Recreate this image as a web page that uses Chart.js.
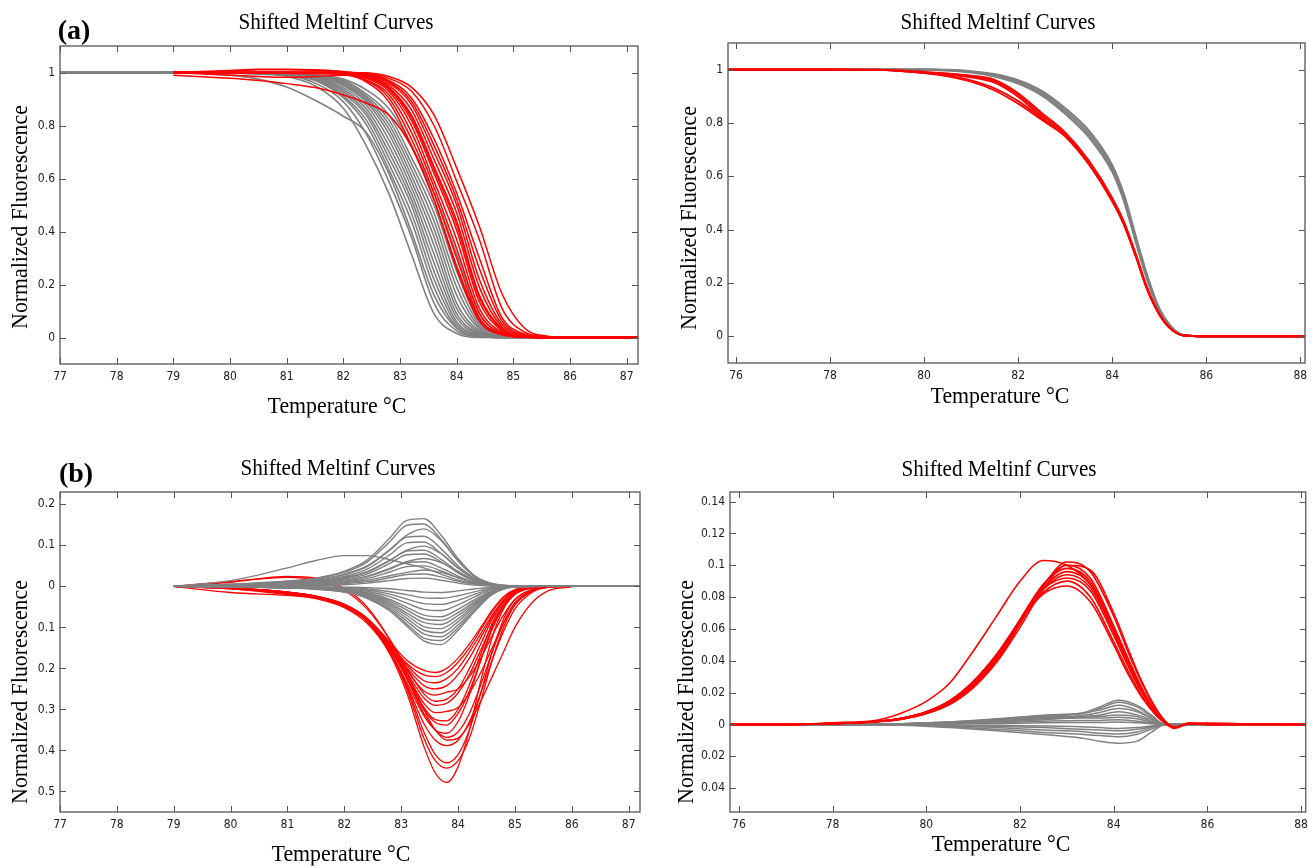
<!DOCTYPE html>
<html>
<head>
<meta charset="utf-8">
<script src="https://cdn.jsdelivr.net/npm/chart.js@4.4.1/dist/chart.umd.min.js"></script>
<style>
  html, body { margin: 0; padding: 0; background: #fff; }
  body { width: 1314px; height: 868px; position: relative; overflow: hidden; font-family: 'Liberation Serif', 'Times New Roman', serif; }
  .panel { position: absolute; }
  .lbl { position: absolute; white-space: nowrap; color: #000; line-height: 1; }
  .title { font-size: 23px; transform: translate(-50%, -50%) scaleX(0.92); }
  .xlab { font-size: 23px; transform: translate(-50%, -50%) scaleX(0.95); }
  .ylab { font-size: 24px; transform: translate(-50%, -50%) rotate(-90deg) scaleX(0.91); }
  .tag { font-size: 28px; font-weight: bold; transform: translate(-50%, -50%); }
</style>
</head>
<body>

<div class="panel" style="left:0;top:0;width:657px;height:434px"><canvas id="chartA1"></canvas></div>
<div class="panel" style="left:668px;top:0;width:646px;height:434px"><canvas id="chartA2"></canvas></div>
<div class="panel" style="left:0;top:440px;width:657px;height:428px"><canvas id="chartB1"></canvas></div>
<div class="panel" style="left:668px;top:440px;width:646px;height:428px"><canvas id="chartB2"></canvas></div>

<div class="lbl tag" style="left:74px;top:30px">(a)</div>
<div class="lbl tag" style="left:76px;top:473px">(b)</div>

<div class="lbl title" style="left:336px;top:21px">Shifted Meltinf Curves</div>
<div class="lbl title" style="left:998px;top:21px">Shifted Meltinf Curves</div>
<div class="lbl title" style="left:338px;top:467px">Shifted Meltinf Curves</div>
<div class="lbl title" style="left:999px;top:468px">Shifted Meltinf Curves</div>

<div class="lbl xlab" style="left:337px;top:405px">Temperature °C</div>
<div class="lbl xlab" style="left:1000px;top:395px">Temperature °C</div>
<div class="lbl xlab" style="left:341px;top:853px">Temperature °C</div>
<div class="lbl xlab" style="left:1001px;top:843px">Temperature °C</div>

<div class="lbl ylab" style="left:19px;top:217px">Normalized Fluorescence</div>
<div class="lbl ylab" style="left:688px;top:218px">Normalized Fluorescence</div>
<div class="lbl ylab" style="left:19px;top:692px">Normalized Fluorescence</div>
<div class="lbl ylab" style="left:685px;top:692px">Normalized Fluorescence</div>

<script>
// ---- tick values / labels ----
const ticksTempA = [77, 78, 79, 80, 81, 82, 83, 84, 85, 86, 87];
const ticksTempB = [76, 78, 80, 82, 84, 86, 88];
const ticksFluor = [0, 0.2, 0.4, 0.6, 0.8, 1];
const labelsFluor = ['0', '0.2', '0.4', '0.6', '0.8', '1'];
const ticksDiffA = [0.2, 0.1, 0, -0.1, -0.2, -0.3, -0.4, -0.5];
const labelsDiffA = ['0.2', '0.1', '0', '0.1', '0.2', '0.3', '0.4', '0.5'];
const ticksDiffB = [0.14, 0.12, 0.1, 0.08, 0.06, 0.04, 0.02, 0, -0.02, -0.04];
const labelsDiffB = ['0.14', '0.12', '0.1', '0.08', '0.06', '0.04', '0.02', '0', '0.02', '0.04'];

// ---- panel (a) left: melting curves ----
const tempGreyA1 = [77, 79, 80, 80.5, 81, 81.5, 82, 82.4, 82.8, 83.2, 83.6, 84, 84.4, 84.8, 85.2, 85.6, 86, 87.2];
const greyA1 = [
  [1, 1, 0.998, 0.994, 0.985, 0.95, 0.865, 0.725, 0.545, 0.315, 0.09, 0.015, 0, 0, 0, 0, 0, 0],
  [1, 1, 0.998, 0.995, 0.99, 0.96, 0.89, 0.77, 0.59, 0.38, 0.13, 0.025, 0.003, 0, 0, 0, 0, 0],
  [1, 1, 0.999, 0.996, 0.99, 0.97, 0.905, 0.805, 0.635, 0.44, 0.19, 0.04, 0.005, 0, 0, 0, 0, 0],
  [1, 1, 1, 0.997, 0.991, 0.972, 0.912, 0.822, 0.657, 0.47, 0.22, 0.05, 0.008, 0, 0, 0, 0, 0],
  [1, 1, 1, 0.997, 0.992, 0.975, 0.92, 0.84, 0.68, 0.5, 0.25, 0.06, 0.01, 0, 0, 0, 0, 0],
  [1, 1, 1, 0.998, 0.993, 0.978, 0.928, 0.852, 0.702, 0.522, 0.282, 0.075, 0.012, 0, 0, 0, 0, 0],
  [1, 1, 1, 0.998, 0.993, 0.98, 0.935, 0.865, 0.725, 0.545, 0.315, 0.09, 0.015, 0, 0, 0, 0, 0],
  [1, 1, 1, 0.998, 0.994, 0.982, 0.942, 0.878, 0.748, 0.568, 0.348, 0.11, 0.02, 0.002, 0, 0, 0, 0],
  [1, 1, 1, 0.998, 0.994, 0.985, 0.95, 0.89, 0.77, 0.59, 0.38, 0.13, 0.025, 0.003, 0, 0, 0, 0],
  [1, 1, 1, 0.998, 0.995, 0.988, 0.955, 0.898, 0.788, 0.612, 0.41, 0.16, 0.032, 0.004, 0, 0, 0, 0],
  [1, 1, 1, 0.998, 0.995, 0.99, 0.96, 0.905, 0.805, 0.635, 0.44, 0.19, 0.04, 0.005, 0, 0, 0, 0],
  [1, 1, 1, 0.998, 0.995, 0.99, 0.965, 0.912, 0.822, 0.657, 0.47, 0.22, 0.05, 0.008, 0, 0, 0, 0],
  [1, 1, 1, 0.999, 0.996, 0.99, 0.97, 0.92, 0.84, 0.68, 0.5, 0.25, 0.06, 0.01, 0, 0, 0, 0],
  [1, 1, 1, 1, 0.997, 0.992, 0.975, 0.935, 0.865, 0.725, 0.545, 0.315, 0.09, 0.015, 0, 0, 0, 0],
  [1, 1, 0.99, 0.975, 0.945, 0.895, 0.835, 0.775, 0.62, 0.4, 0.16, 0.035, 0.005, 0, 0, 0, 0, 0]
];
const tempRedA1 = [79, 80, 80.5, 81, 81.5, 82, 82.4, 82.8, 83.2, 83.6, 84, 84.4, 84.8, 85.2, 85.6, 86, 87.2];
const redA1 = [
  [0.99, 0.978, 0.97, 0.958, 0.943, 0.915, 0.885, 0.84, 0.72, 0.52, 0.27, 0.07, 0.012, 0.002, 0, 0, 0],
  [1, 1, 1, 1, 0.998, 0.993, 0.965, 0.89, 0.725, 0.52, 0.26, 0.062, 0.01, 0.001, 0, 0, 0],
  [1, 1, 1, 1, 1, 0.995, 0.97, 0.905, 0.75, 0.545, 0.3, 0.075, 0.013, 0.001, 0, 0, 0],
  [1, 1, 0.998, 0.996, 0.995, 0.993, 0.972, 0.918, 0.775, 0.568, 0.335, 0.092, 0.016, 0.002, 0, 0, 0],
  [1, 1, 1, 1, 1, 0.997, 0.978, 0.93, 0.8, 0.59, 0.37, 0.11, 0.02, 0.003, 0, 0, 0],
  [1, 1.005, 1.01, 1.01, 1.008, 1.0, 0.982, 0.938, 0.82, 0.62, 0.405, 0.135, 0.026, 0.004, 0, 0, 0],
  [1, 1, 1, 1, 1, 0.999, 0.985, 0.945, 0.84, 0.645, 0.44, 0.16, 0.033, 0.005, 0, 0, 0],
  [1, 1, 1, 1, 1, 1, 0.988, 0.952, 0.86, 0.672, 0.47, 0.19, 0.04, 0.006, 0, 0, 0],
  [1, 1.008, 1.012, 1.012, 1.01, 1.004, 0.99, 0.96, 0.88, 0.7, 0.5, 0.22, 0.05, 0.008, 0, 0, 0],
  [1, 1, 1, 1, 1, 1, 0.993, 0.965, 0.892, 0.725, 0.522, 0.26, 0.062, 0.01, 0.001, 0, 0],
  [1, 1, 1, 1, 1, 1, 0.995, 0.97, 0.905, 0.75, 0.545, 0.3, 0.075, 0.013, 0.001, 0, 0],
  [1, 1, 1, 1, 1, 1, 0.997, 0.978, 0.93, 0.8, 0.59, 0.37, 0.11, 0.02, 0.003, 0, 0],
  [1, 1, 1, 1, 1, 1, 0.999, 0.985, 0.945, 0.84, 0.64, 0.42, 0.165, 0.035, 0.005, 0, 0],
  [1, 0.99, 0.985, 0.982, 0.985, 0.99, 0.984, 0.942, 0.832, 0.635, 0.425, 0.15, 0.03, 0.005, 0, 0, 0]
];

// ---- panel (a) right ----
const tempA2 = [75.8, 78, 79, 80, 80.5, 81, 81.5, 82, 82.5, 83, 83.5, 84, 84.25, 84.5, 84.75, 85, 85.25, 85.5, 86, 88.2];
const greyA2 = [
  [1, 1, 1, 1, 0.999, 0.994, 0.983, 0.96, 0.92, 0.855, 0.772, 0.642, 0.532, 0.375, 0.225, 0.105, 0.037, 0.006, 0, 0],
  [1, 1, 1, 1, 0.998, 0.992, 0.979, 0.954, 0.912, 0.845, 0.76, 0.63, 0.52, 0.365, 0.218, 0.1, 0.035, 0.005, 0, 0],
  [1, 1, 1, 1, 0.997, 0.99, 0.975, 0.948, 0.904, 0.835, 0.748, 0.618, 0.508, 0.355, 0.21, 0.096, 0.033, 0.005, 0, 0]
];
const redA2 = [
  [1, 1, 1, 0.992, 0.986, 0.978, 0.962, 0.912, 0.838, 0.765, 0.66, 0.52, 0.43, 0.31, 0.18, 0.086, 0.029, 0.004, 0, 0],
  [1, 1, 1, 0.99, 0.984, 0.975, 0.957, 0.905, 0.83, 0.758, 0.652, 0.512, 0.424, 0.305, 0.176, 0.084, 0.028, 0.004, 0, 0],
  [1, 1, 0.999, 0.988, 0.981, 0.971, 0.951, 0.898, 0.822, 0.75, 0.645, 0.505, 0.418, 0.3, 0.172, 0.082, 0.027, 0.004, 0, 0],
  [1, 1, 0.999, 0.988, 0.978, 0.96, 0.93, 0.882, 0.818, 0.752, 0.65, 0.51, 0.42, 0.302, 0.174, 0.083, 0.027, 0.004, 0, 0],
  [1, 1, 0.999, 0.987, 0.975, 0.955, 0.922, 0.872, 0.812, 0.75, 0.648, 0.51, 0.42, 0.302, 0.174, 0.083, 0.027, 0.004, 0, 0]
];

// ---- panel (b) left: difference curves ----
const tempGreyB1 = [79, 80, 81, 81.5, 82, 82.4, 82.8, 83.1, 83.4, 83.7, 84, 84.3, 84.6, 85, 85.5, 87.2];
const greyB1 = [
  [0, 0.005, 0.013, 0.02, 0.037, 0.064, 0.118, 0.161, 0.165, 0.125, 0.068, 0.025, 0.007, 0.001, 0, 0],
  [0, 0.005, 0.012, 0.019, 0.034, 0.059, 0.109, 0.149, 0.152, 0.115, 0.063, 0.023, 0.006, 0.001, 0, 0],
  [0, 0.004, 0.011, 0.017, 0.03, 0.05, 0.09, 0.125, 0.14, 0.112, 0.062, 0.024, 0.006, 0.001, 0, 0],
  [0, 0.004, 0.01, 0.015, 0.028, 0.048, 0.088, 0.12, 0.122, 0.092, 0.05, 0.019, 0.005, 0.001, 0, 0],
  [0, 0.003, 0.009, 0.013, 0.024, 0.042, 0.077, 0.106, 0.108, 0.08, 0.044, 0.017, 0.004, 0, 0, 0],
  [0, 0.003, 0.008, 0.012, 0.022, 0.036, 0.064, 0.088, 0.098, 0.08, 0.046, 0.018, 0.004, 0, 0, 0],
  [0, 0.003, 0.007, 0.011, 0.02, 0.034, 0.063, 0.086, 0.088, 0.066, 0.036, 0.014, 0.004, 0, 0, 0],
  [0, 0.002, 0.006, 0.01, 0.018, 0.03, 0.056, 0.077, 0.079, 0.06, 0.033, 0.012, 0.003, 0, 0, 0],
  [0, 0.002, 0.006, 0.008, 0.015, 0.025, 0.044, 0.06, 0.068, 0.058, 0.036, 0.015, 0.004, 0, 0, 0],
  [0, 0.002, 0.005, 0.007, 0.013, 0.023, 0.042, 0.058, 0.06, 0.045, 0.025, 0.009, 0.002, 0, 0, 0],
  [0, 0.002, 0.004, 0.006, 0.011, 0.019, 0.035, 0.048, 0.05, 0.038, 0.021, 0.008, 0.002, 0, 0, 0],
  [0, 0.001, 0.003, 0.005, 0.009, 0.015, 0.026, 0.034, 0.04, 0.034, 0.021, 0.009, 0.003, 0, 0, 0],
  [0, 0.001, 0.002, 0.004, 0.007, 0.011, 0.021, 0.029, 0.03, 0.023, 0.012, 0.005, 0.001, 0, 0, 0],
  [0, 0.001, 0.002, 0.002, 0.004, 0.008, 0.014, 0.019, 0.02, 0.015, 0.008, 0.003, 0.001, 0, 0, 0],
  [0, 0.014, 0.045, 0.063, 0.075, 0.075, 0.065, 0.055, 0.045, 0.03, 0.015, 0.006, 0.002, 0, 0, 0],
  [0, -0.001, -0.004, -0.007, -0.014, -0.029, -0.06, -0.097, -0.133, -0.142, -0.107, -0.06, -0.02, -0.001, 0, 0],
  [0, -0.001, -0.004, -0.007, -0.014, -0.027, -0.057, -0.092, -0.126, -0.132, -0.101, -0.057, -0.019, -0.001, 0, 0],
  [0, -0.001, -0.004, -0.006, -0.013, -0.025, -0.053, -0.085, -0.116, -0.123, -0.094, -0.053, -0.018, -0.001, 0, 0],
  [0, -0.001, -0.003, -0.006, -0.012, -0.023, -0.048, -0.078, -0.107, -0.113, -0.086, -0.048, -0.016, -0.001, 0, 0],
  [0, -0.001, -0.003, -0.005, -0.011, -0.021, -0.044, -0.071, -0.098, -0.103, -0.079, -0.044, -0.015, -0.001, 0, 0],
  [0, -0.001, -0.003, -0.005, -0.01, -0.019, -0.04, -0.065, -0.088, -0.093, -0.071, -0.04, -0.013, -0.001, 0, 0],
  [0, -0.001, -0.003, -0.004, -0.009, -0.017, -0.036, -0.058, -0.079, -0.083, -0.064, -0.036, -0.012, -0.001, 0, 0],
  [0, -0.001, -0.002, -0.004, -0.008, -0.015, -0.032, -0.051, -0.07, -0.074, -0.056, -0.032, -0.011, -0.001, 0, 0],
  [0, -0.001, -0.002, -0.003, -0.006, -0.012, -0.025, -0.041, -0.056, -0.059, -0.045, -0.025, -0.008, 0, 0, 0],
  [0, 0, -0.001, -0.002, -0.005, -0.009, -0.019, -0.031, -0.042, -0.044, -0.034, -0.019, -0.006, 0, 0, 0],
  [0, 0, -0.001, -0.002, -0.003, -0.006, -0.013, -0.02, -0.028, -0.029, -0.023, -0.013, -0.004, 0, 0, 0],
  [0, 0, 0, -0.001, -0.002, -0.003, -0.006, -0.01, -0.014, -0.015, -0.011, -0.006, -0.002, 0, 0, 0]
];
const tempRedB1 = [79, 80, 81, 81.5, 82, 82.4, 82.8, 83.1, 83.4, 83.6, 83.8, 84, 84.2, 84.4, 84.6, 84.8, 85, 85.3, 85.6, 86];
const redB1 = [
  [0, -0.005, -0.015, -0.025, -0.045, -0.085, -0.165, -0.26, -0.39, -0.455, -0.478, -0.44, -0.35, -0.23, -0.125, -0.055, -0.02, -0.004, 0, 0],
  [0, -0.004, -0.014, -0.024, -0.045, -0.082, -0.16, -0.25, -0.37, -0.425, -0.443, -0.425, -0.37, -0.28, -0.18, -0.1, -0.045, -0.012, -0.002, 0],
  [0, -0.006, -0.018, -0.028, -0.05, -0.085, -0.16, -0.245, -0.355, -0.41, -0.43, -0.41, -0.35, -0.26, -0.16, -0.08, -0.032, -0.008, -0.001, 0],
  [0, -0.005, -0.016, -0.026, -0.046, -0.082, -0.155, -0.24, -0.335, -0.375, -0.388, -0.375, -0.33, -0.26, -0.18, -0.11, -0.055, -0.015, -0.002, 0],
  [0, 0.01, 0.024, 0.02, -0.005, -0.05, -0.13, -0.21, -0.3, -0.35, -0.375, -0.37, -0.335, -0.28, -0.22, -0.16, -0.1, -0.04, -0.01, -0.001],
  [0, -0.006, -0.02, -0.03, -0.052, -0.09, -0.16, -0.235, -0.315, -0.35, -0.358, -0.33, -0.265, -0.18, -0.1, -0.045, -0.015, -0.003, 0, 0],
  [0, -0.005, -0.015, -0.025, -0.045, -0.08, -0.15, -0.225, -0.3, -0.332, -0.338, -0.31, -0.255, -0.18, -0.105, -0.05, -0.018, -0.003, 0, 0],
  [0, -0.015, -0.022, -0.028, -0.045, -0.08, -0.145, -0.22, -0.295, -0.325, -0.328, -0.3, -0.24, -0.165, -0.09, -0.04, -0.013, -0.002, 0, 0],
  [0, -0.004, -0.014, -0.024, -0.044, -0.078, -0.145, -0.215, -0.285, -0.308, -0.305, -0.295, -0.26, -0.21, -0.15, -0.09, -0.045, -0.012, -0.002, 0],
  [0, -0.005, -0.015, -0.026, -0.046, -0.08, -0.145, -0.21, -0.272, -0.29, -0.285, -0.26, -0.215, -0.155, -0.095, -0.048, -0.018, -0.004, 0, 0],
  [0, 0.012, 0.022, 0.015, -0.01, -0.055, -0.13, -0.2, -0.262, -0.28, -0.275, -0.25, -0.2, -0.14, -0.08, -0.035, -0.012, -0.002, 0, 0],
  [0, -0.005, -0.016, -0.027, -0.048, -0.082, -0.145, -0.205, -0.255, -0.265, -0.258, -0.25, -0.22, -0.175, -0.12, -0.07, -0.032, -0.008, 0, 0],
  [0, -0.004, -0.014, -0.024, -0.044, -0.078, -0.14, -0.198, -0.242, -0.25, -0.242, -0.215, -0.175, -0.125, -0.075, -0.035, -0.012, -0.002, 0, 0],
  [0, -0.005, -0.015, -0.025, -0.045, -0.08, -0.14, -0.192, -0.23, -0.235, -0.225, -0.2, -0.16, -0.115, -0.07, -0.033, -0.011, -0.002, 0, 0],
  [0, -0.005, -0.015, -0.026, -0.047, -0.082, -0.14, -0.188, -0.216, -0.22, -0.21, -0.185, -0.15, -0.105, -0.062, -0.028, -0.009, -0.001, 0, 0],
  [0, -0.004, -0.014, -0.024, -0.044, -0.078, -0.135, -0.18, -0.205, -0.21, -0.2, -0.175, -0.14, -0.1, -0.058, -0.025, -0.008, -0.001, 0, 0],
  [0, -0.005, -0.016, -0.026, -0.046, -0.082, -0.15, -0.225, -0.31, -0.35, -0.368, -0.355, -0.31, -0.24, -0.16, -0.09, -0.04, -0.01, -0.001, 0]
];

// ---- panel (b) right ----
const tempGreyB2 = [75.8, 78.5, 79.5, 80.5, 81.5, 82.5, 83.3, 83.7, 84.1, 84.5, 84.8, 85.1, 85.4, 86, 88.2];
const greyB2 = [
  [0, 0, 0.0005, 0.0015, 0.003, 0.005, 0.007, 0.011, 0.0152, 0.012, 0.006, 0, 0, 0, 0],
  [0, 0, 0.0005, 0.0015, 0.003, 0.0055, 0.0065, 0.01, 0.014, 0.011, 0.005, 0, -0.0005, 0, 0],
  [0, 0, 0.0005, 0.0015, 0.0035, 0.0058, 0.007, 0.009, 0.012, 0.009, 0.004, 0, 0, 0, 0],
  [0, 0, 0.0005, 0.001, 0.0025, 0.0045, 0.0055, 0.0075, 0.01, 0.008, 0.004, 0, -0.0008, 0, 0],
  [0, 0, 0.0004, 0.001, 0.002, 0.004, 0.005, 0.006, 0.008, 0.006, 0.003, 0, 0, 0, 0],
  [0, 0, 0.0003, 0.001, 0.002, 0.0035, 0.0045, 0.005, 0.006, 0.005, 0.002, 0, 0, 0, 0],
  [0, 0, 0.0003, 0.0008, 0.0015, 0.003, 0.004, 0.004, 0.0045, 0.0035, 0.0015, 0, 0, 0, 0],
  [0, 0, 0.0002, 0.0005, 0.001, 0.002, 0.0025, 0.0025, 0.003, 0.002, 0.001, 0, 0, 0, 0],
  [0, 0, 0.0001, 0.0003, 0.0005, 0.001, 0.0012, 0.0012, 0.0015, 0.001, 0.0005, 0, 0, 0, 0],
  [0, 0, -0.0001, -0.0003, -0.0006, -0.001, -0.0015, -0.002, -0.0025, -0.002, -0.001, 0, 0, 0, 0],
  [0, 0, -0.0002, -0.0006, -0.0012, -0.002, -0.003, -0.0035, -0.004, -0.003, -0.0015, 0, 0, 0, 0],
  [0, 0, -0.0003, -0.001, -0.002, -0.0035, -0.0045, -0.0055, -0.006, -0.0048, -0.002, 0, 0, 0, 0],
  [0, 0, -0.0004, -0.0015, -0.003, -0.005, -0.0062, -0.007, -0.0078, -0.0062, -0.003, 0, 0, 0, 0],
  [0, 0, -0.0005, -0.002, -0.004, -0.0063, -0.0085, -0.0105, -0.0118, -0.0105, -0.005, 0, 0, 0, 0]
];
const tempRedB2 = [75.8, 77, 78, 79, 79.5, 80, 80.5, 81, 81.5, 82, 82.5, 83, 83.5, 84, 84.3, 84.6, 84.9, 85.1, 85.3, 85.6, 86, 88.2];
const redB2 = [
  [0, 0, 0.0005, 0.002, 0.004, 0.007, 0.013, 0.024, 0.04, 0.063, 0.087, 0.102, 0.096, 0.068, 0.046, 0.026, 0.01, 0.002, -0.002, 0.0005, 0.0005, 0],
  [0, 0, 0.0005, 0.002, 0.004, 0.0075, 0.014, 0.025, 0.042, 0.065, 0.088, 0.1, 0.092, 0.062, 0.042, 0.023, 0.008, 0.001, -0.002, 0.0005, 0.0005, 0],
  [0, 0, 0.0005, 0.002, 0.004, 0.0078, 0.0145, 0.026, 0.043, 0.066, 0.088, 0.098, 0.09, 0.06, 0.04, 0.022, 0.008, 0.001, -0.0025, 0.0005, 0.0005, 0],
  [0, 0, 0.0005, 0.0018, 0.0035, 0.007, 0.0135, 0.024, 0.041, 0.064, 0.086, 0.096, 0.088, 0.059, 0.04, 0.022, 0.008, 0.001, -0.002, 0.0005, 0, 0],
  [0, 0, 0.0005, 0.0018, 0.0035, 0.0072, 0.014, 0.025, 0.042, 0.064, 0.085, 0.094, 0.086, 0.058, 0.038, 0.021, 0.007, 0.001, -0.002, 0.0008, 0, 0],
  [0, 0, 0.0005, 0.002, 0.004, 0.0078, 0.0145, 0.026, 0.043, 0.065, 0.085, 0.092, 0.084, 0.056, 0.037, 0.02, 0.007, 0.001, -0.002, 0.0005, 0, 0],
  [0, 0, 0.0005, 0.0018, 0.0035, 0.0068, 0.0125, 0.023, 0.039, 0.061, 0.085, 0.1, 0.097, 0.07, 0.048, 0.027, 0.01, 0.002, -0.0015, 0.0005, 0.0005, 0],
  [0, 0, 0.0005, 0.002, 0.004, 0.008, 0.015, 0.027, 0.044, 0.065, 0.083, 0.09, 0.08, 0.052, 0.034, 0.018, 0.006, 0.001, -0.002, 0.0005, 0, 0],
  [0, 0, 0.0005, 0.002, 0.004, 0.008, 0.015, 0.027, 0.044, 0.065, 0.082, 0.087, 0.077, 0.05, 0.032, 0.017, 0.006, 0.001, -0.002, 0.0005, 0, 0],
  [0, 0, 0.001, 0.003, 0.0075, 0.0145, 0.026, 0.046, 0.068, 0.09, 0.103, 0.1, 0.088, 0.06, 0.04, 0.022, 0.008, 0.001, -0.002, 0.0005, 0.0005, 0]
];

const GREY = '#808080';
const RED = '#ff0000';
const tickFont = { family: "'Liberation Sans Narrow', 'DejaVu Sans Condensed', 'Liberation Sans', Arial, sans-serif", size: 12 };

// matlab style box with inward ticks on all four sides
const frameBox = {
    id: 'frameBox',
    afterDatasetsDraw(chart) {
        const { ctx, chartArea: a, scales: { x, y } } = chart;
        ctx.save();
        ctx.strokeStyle = '#555';
        ctx.lineWidth = 1.3;
        ctx.strokeRect(a.left, a.top, a.right - a.left, a.bottom - a.top);
        ctx.lineWidth = 1;
        ctx.beginPath();
        x.ticks.forEach(t => {
            const px = Math.round(x.getPixelForValue(t.value)) + 0.5;
            ctx.moveTo(px, a.bottom); ctx.lineTo(px, a.bottom - 6);
            ctx.moveTo(px, a.top); ctx.lineTo(px, a.top + 6);
        });
        y.ticks.forEach(t => {
            const py = Math.round(y.getPixelForValue(t.value)) + 0.5;
            ctx.moveTo(a.left, py); ctx.lineTo(a.left + 6, py);
            ctx.moveTo(a.right, py); ctx.lineTo(a.right - 6, py);
        });
        ctx.stroke();
        ctx.restore();
    }
};

function curves(temps, rows, color, width) {
    return rows.map(row => ({
        data: row.map((v, i) => ({ x: temps[i], y: v })),
        borderColor: color,
        borderWidth: width,
        pointRadius: 0,
        fill: false,
        cubicInterpolationMode: 'monotone'
    }));
}

function makeChart(id, cfg) {
    return new Chart(document.getElementById(id), {
        type: 'line',
        data: { datasets: cfg.datasets },
        options: {
            animation: false,
            responsive: true,
            maintainAspectRatio: false,
            events: [],
            layout: { padding: cfg.padding },
            plugins: { legend: { display: false }, tooltip: { enabled: false }, title: { display: false } },
            scales: {
                x: {
                    type: 'linear', min: cfg.xMin, max: cfg.xMax,
                    grid: { display: false, drawTicks: false },
                    border: { display: false },
                    afterBuildTicks: s => { s.ticks = cfg.xTicks.map(v => ({ value: v })); },
                    afterFit: s => { s.height = cfg.xHeight; },
                    ticks: { autoSkip: false, maxRotation: 0, padding: 6, color: '#222', font: tickFont, callback: v => String(v) }
                },
                y: {
                    type: 'linear', min: cfg.yMin, max: cfg.yMax,
                    grid: { display: false, drawTicks: false },
                    border: { display: false },
                    afterBuildTicks: s => { s.ticks = cfg.yTicks.map(v => ({ value: v })); },
                    afterFit: s => { s.width = cfg.yWidth; },
                    ticks: { autoSkip: false, padding: 5, color: '#222', font: tickFont, callback: v => cfg.yLabels[cfg.yTicks.indexOf(v)] }
                }
            }
        },
        plugins: [frameBox]
    });
}

// first dataset in the list is painted on top
makeChart('chartA1', {
    datasets: [...curves(tempRedA1, redA1, RED, 1.5), ...curves(tempGreyA1, greyA1, GREY, 1.6)],
    padding: { top: 46, right: 19, left: 0, bottom: 0 },
    xMin: 77, xMax: 87.2, xTicks: ticksTempA, xHeight: 70,
    yMin: -0.1, yMax: 1.1, yTicks: ticksFluor, yLabels: labelsFluor, yWidth: 60
});

makeChart('chartA2', {
    datasets: [...curves(tempA2, redA2, RED, 1.8), ...curves(tempA2, greyA2, GREY, 2.2)],
    padding: { top: 43, right: 9, left: 0, bottom: 0 },
    xMin: 75.83, xMax: 88.1, xTicks: ticksTempB, xHeight: 71,
    yMin: -0.1, yMax: 1.1, yTicks: ticksFluor, yLabels: labelsFluor, yWidth: 60
});

makeChart('chartB1', {
    datasets: [...curves(tempGreyB1, greyB1, GREY, 1.4), ...curves(tempRedB1, redB1, RED, 1.3)],
    padding: { top: 52, right: 17, left: 0, bottom: 0 },
    xMin: 77, xMax: 87.2, xTicks: ticksTempA, xHeight: 56,
    yMin: -0.55, yMax: 0.23, yTicks: ticksDiffA, yLabels: labelsDiffA, yWidth: 60
});

makeChart('chartB2', {
    datasets: [...curves(tempRedB2, redB2, RED, 1.6), ...curves(tempGreyB2, greyB2, GREY, 1.5)],
    padding: { top: 52, right: 7, left: 0, bottom: 0 },
    xMin: 75.81, xMax: 88.1, xTicks: ticksTempB, xHeight: 56,
    yMin: -0.055, yMax: 0.146, yTicks: ticksDiffB, yLabels: labelsDiffB, yWidth: 62
});
</script>
</body>
</html>
